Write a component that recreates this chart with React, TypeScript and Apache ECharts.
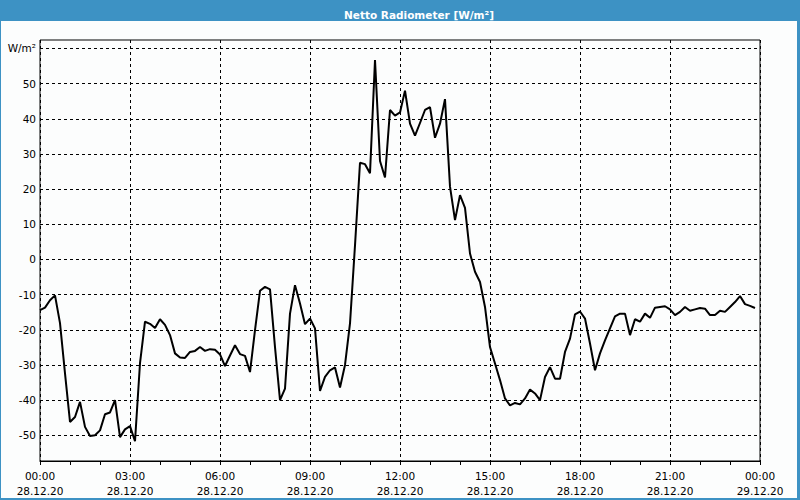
import React, { useEffect, useRef } from "react";
import * as echarts from "echarts";

const TITLE = "Netto Radiometer [W/m²]";
const UNIT = "W/m²";
// 10-minute samples from 00:00 to 23:50 on 28.12.20
const values = [
  -14.4, -13.7, -11.6, -10.2, -18.1, -32.4, -46.2, -44.8, -40.5, -47.6,
  -50.2, -50, -48.6, -44, -43.5, -40, -50.5, -48.3, -47.4, -51.7,
  -29.5, -17.7, -18.3, -19.5, -17, -18.6, -21.5, -26.7, -27.9, -28,
  -26.3, -26, -24.9, -26, -25.5, -25.7, -27, -30.3, -27.3, -24.4,
  -26.9, -27.4, -32, -20.1, -8.9, -7.8, -8.5, -24.9, -40, -36.7,
  -15.4, -7.3, -12.5, -18.4, -16.8, -19.6, -37.4, -33.4, -31.5, -30.7,
  -36.4, -30, -18.2, 4, 27.5, 27.1, 24.5, 56.7, 28, 23.3,
  42.5, 40.9, 41.8, 48, 38.6, 35.2, 38.8, 42.5, 43.3, 34.6,
  38.6, 45.6, 20.7, 11.2, 18.3, 14.7, 1.7, -3.5, -6.4, -13.5,
  -24.9, -29.6, -34.3, -39.5, -41.5, -40.8, -41.2, -39.5, -37, -38.1,
  -40, -33.4, -30.6, -33.9, -33.9, -26.3, -22.5, -15.6, -14.8, -16.8,
  -23.9, -31.5, -26.7, -23, -19.6, -16.2, -15.4, -15.4, -21.5, -17,
  -17.7, -15.4, -16.6, -13.7, -13.5, -13.3, -14.2, -15.8, -14.9, -13.5,
  -14.6, -14.2, -13.8, -14, -15.8, -15.8, -14.6, -14.9, -13.5, -12.1,
  -10.4, -12.7, -13.2, -13.8,
];
const gridValues = [-50, -40, -30, -20, -10, 0, 10, 20, 30, 40, 50, 60];
const xTickHours = [0, 3, 6, 9, 12, 15, 18, 21, 24];
const dateLabels = ["28.12.20", "29.12.20"];

const FONT = "DejaVu Sans";

export default function App() {
  const ref = useRef<HTMLDivElement>(null);
  useEffect(() => {
    if (!ref.current) return;
    const chart = echarts.init(ref.current, undefined, { renderer: "svg" });
    const data = values.map((v, i) => [i / 6, v]);
    chart.setOption({
      animation: false,
      backgroundColor: "#fcfdfd",
      title: {
        text: TITLE,
        left: 414,
        top: 4,
        textAlign: "center",
        textStyle: { color: "#ffffff", fontFamily: FONT, fontSize: 10.5, fontWeight: "bold" },
        z: 20,
      },
      graphic: [
        { type: "rect", shape: { x: 0, y: 0, width: 800, height: 21 }, style: { fill: "#3d92c4" }, z: 5 },
        { type: "rect", shape: { x: 0, y: 0, width: 1, height: 500 }, style: { fill: "#3d92c4" }, z: 5 },
        { type: "rect", shape: { x: 797, y: 0, width: 3, height: 500 }, style: { fill: "#3d92c4" }, z: 5 },
        { type: "rect", shape: { x: 0, y: 498, width: 800, height: 2 }, style: { fill: "#3d92c4" }, z: 5 },
      ],
      grid: {
        left: 40,
        right: 40,
        top: 40,
        bottom: 39,
        show: true,
        borderColor: "#000",
        borderWidth: 1,
        backgroundColor: "transparent",
      },
      xAxis: {
        type: "value",
        min: 0,
        max: 24,
        interval: 3,
        axisLine: { show: true, onZero: false, lineStyle: { color: "#000", width: 1 } },
        axisTick: { show: true, length: 4, lineStyle: { color: "#000" } },
        minorTick: { show: true, splitNumber: 3, length: 4, lineStyle: { color: "#000" } },
        splitLine: { show: true, lineStyle: { color: "#000", type: [3, 3], width: 1 } },
        axisLabel: {
          margin: 7,
          color: "#000",
          fontFamily: FONT,
          fontSize: 10.5,
          lineHeight: 15,
          formatter: (v: number) => {
            const h = Math.round(v) % 24;
            const d = v >= 24 ? dateLabels[1] : dateLabels[0];
            return (h < 10 ? "0" + h : "" + h) + ":00\n" + d;
          },
          customValues: xTickHours,
        },
      },
      yAxis: {
        type: "value",
        min: -57.3,
        max: 62.4,
        axisLine: { show: false },
        axisTick: { show: false },
        axisLabel: { show: false },
        splitLine: { show: false },
      },
      series: [
        {
          type: "line",
          data,
          showSymbol: false,
          symbol: "none",
          lineStyle: { color: "#000", width: 2 },
          z: 10,
          markLine: {
            silent: true,
            symbol: "none",
            animation: false,
            lineStyle: { color: "#000", type: [3, 3], width: 1 },
            label: {
              position: "start",
              distance: 4,
              color: "#000",
              fontFamily: FONT,
              fontSize: 10.5,
              formatter: (p: any) => (p.value === 60 ? UNIT : String(p.value)),
            },
            emphasis: { disabled: true },
            data: gridValues.map((v) => ({ yAxis: v })),
            z: 1,
          },
        },
      ],
    });
    return () => chart.dispose();
  }, []);
  return (
    <div
      ref={ref}
      style={{ position: "fixed", left: 0, top: 0, width: 800, height: 500 }}
    />
  );
}
